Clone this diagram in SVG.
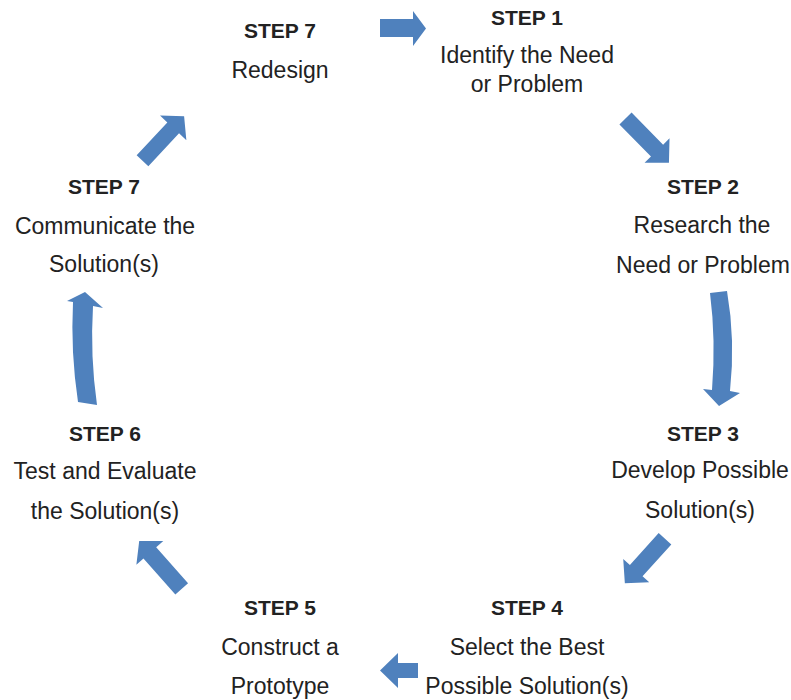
<svg xmlns="http://www.w3.org/2000/svg" width="791" height="700" viewBox="0 0 791 700">
<style>
.bg{fill:#ffffff}
.arr{fill:#4f81bd}
text{font-family:"Liberation Sans",Arial,sans-serif;fill:#222222;text-anchor:middle}
.t{font-size:21px;font-weight:bold}
.d{font-size:23px}
</style>
<rect class="bg" x="0" y="0" width="791" height="700"/>
<g id="connectors">
<polygon class="arr" points="380,19 413,19 413,11 426,28.5 413,46 413,37 380,37"/>
<polygon class="arr" transform="translate(625.5,118.5) rotate(45.5)" points="0,-8.5 45,-8.5 45,-17.5 62,0 45,17.5 45,8.5 0,8.5"/>
<path class="arr" d="M710,293 L727,291 Q735.5,340 730,391 L740,393 L719,406 L703,389 L712,390 Q716,340 710,293 Z"/>
<polygon class="arr" transform="translate(665,538.7) rotate(132)" points="0,-8.5 43,-8.5 43,-17.5 60,0 43,17.5 43,8.5 0,8.5"/>
<polygon class="arr" points="418,663 398,663 398,653 380,670.5 398,688 398,678 418,678"/>
<polygon class="arr" transform="translate(181.7,588.8) rotate(-131.6)" points="0,-8.5 48,-8.5 48,-18 64,0 48,18 48,8.5 0,8.5"/>
<path class="arr" d="M78,402 Q70.5,352 73,302 L67,301 L85,292 L103,308 L93,306 Q90,356 97,405 Z"/>
<polygon class="arr" transform="translate(142.5,160.8) rotate(-47)" points="0,-8 45,-8 45,-18 61,0 45,18 45,8 0,8"/>
</g>
<g id="step7-redesign">
<text class="t" x="280" y="38">STEP 7</text>
<text class="d" x="280" y="78">Redesign</text>
</g>
<g id="step1">
<text class="t" x="527" y="25">STEP 1</text>
<text class="d" x="527" y="63">Identify the Need</text>
<text class="d" x="527" y="92">or Problem</text>
</g>
<g id="step2">
<text class="t" x="703" y="194">STEP 2</text>
<text class="d" x="702" y="233">Research the</text>
<text class="d" x="703" y="273">Need or Problem</text>
</g>
<g id="step3">
<text class="t" x="703" y="441">STEP 3</text>
<text class="d" x="700" y="478">Develop Possible</text>
<text class="d" x="700" y="518">Solution(s)</text>
</g>
<g id="step4">
<text class="t" x="527" y="615">STEP 4</text>
<text class="d" x="527" y="655">Select the Best</text>
<text class="d" x="527" y="694">Possible Solution(s)</text>
</g>
<g id="step5">
<text class="t" x="280" y="615">STEP 5</text>
<text class="d" x="280" y="655">Construct a</text>
<text class="d" x="280" y="694">Prototype</text>
</g>
<g id="step6">
<text class="t" x="105" y="441">STEP 6</text>
<text class="d" x="105" y="479">Test and Evaluate</text>
<text class="d" x="105" y="519">the Solution(s)</text>
</g>
<g id="step7-communicate">
<text class="t" x="104" y="194">STEP 7</text>
<text class="d" x="105" y="234">Communicate the</text>
<text class="d" x="104" y="272">Solution(s)</text>
</g>
</svg>
